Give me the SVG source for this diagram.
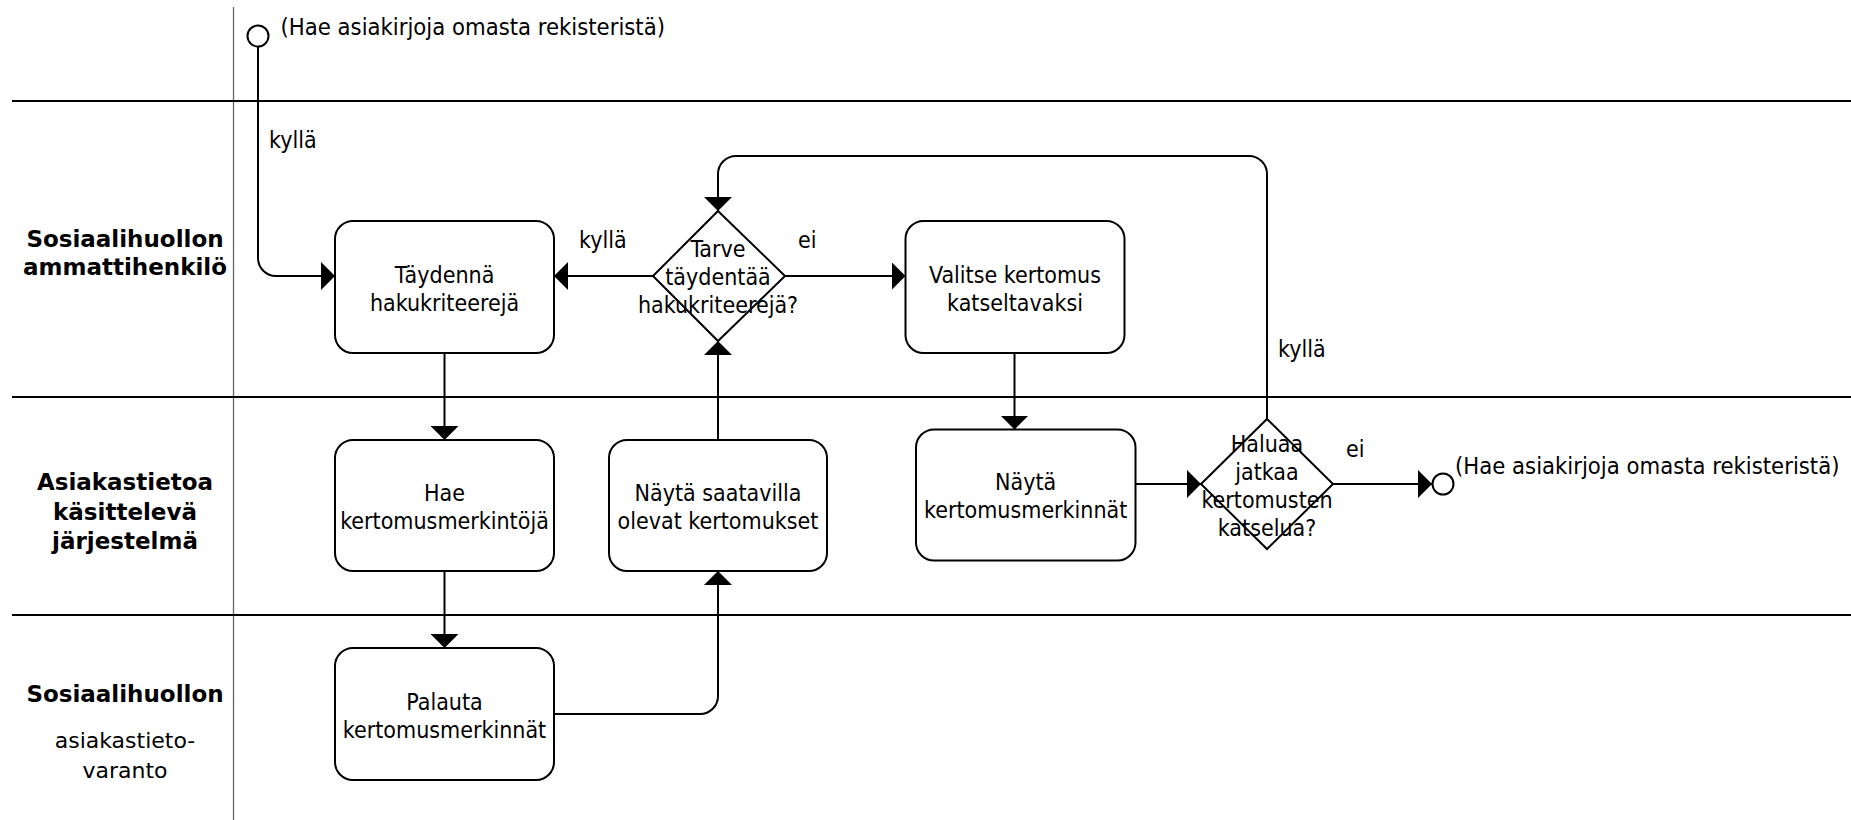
<svg xmlns="http://www.w3.org/2000/svg" width="1851" height="820" viewBox="0 0 1851 820">
  <style>
    text { font-family: "DejaVu Sans Condensed", "DejaVu Sans", sans-serif; font-stretch: condensed; fill: #000; }
    .t { font-size: 23px; text-anchor: middle; }
    .lbl { font-size: 23px; }
    .ev-lbl { font-size: 23.6px; }
    .lane { font-family: "DejaVu Sans", sans-serif; font-stretch: normal; font-size: 23px; font-weight: bold; text-anchor: middle; }
    .lane-sub { font-family: "DejaVu Sans", sans-serif; font-stretch: normal; font-size: 22px; text-anchor: middle; }
    .box { fill: #fff; stroke: #000; stroke-width: 2; }
    .gate { fill: none; stroke: #000; stroke-width: 2; }
    .sep { stroke: #000; stroke-width: 2; }
    .col { stroke: #666; stroke-width: 1.3; }
    .edge { fill: none; stroke: #000; stroke-width: 2; }
    .ev { fill: #fff; stroke: #000; stroke-width: 2; }
  </style>
  <defs>
    <marker id="arrow" viewBox="0 0 14 28" refX="14" refY="14" markerWidth="14" markerHeight="28" markerUnits="userSpaceOnUse" orient="auto">
      <path d="M0,0 L14,14 L0,28 Z" fill="#000"/>
    </marker>
  </defs>

  <rect width="1851" height="820" fill="#fff"/>

  <!-- swimlane grid -->
  <g id="lanes">
    <line class="col" x1="233.5" y1="7" x2="233.5" y2="820"/>
    <line class="sep" x1="12" y1="101" x2="1851" y2="101"/>
    <line class="sep" x1="12" y1="397" x2="1851" y2="397"/>
    <line class="sep" x1="12" y1="615" x2="1851" y2="615"/>
  </g>

  <!-- lane titles -->
  <g id="lane-ammattihenkilo">
    <text class="lane" x="125" y="247">Sosiaalihuollon</text>
    <text class="lane" x="125" y="274.5">ammattihenkilö</text>
  </g>
  <g id="lane-jarjestelma">
    <text class="lane" x="125" y="490">Asiakastietoa</text>
    <text class="lane" x="125" y="519.5">käsittelevä</text>
    <text class="lane" x="125" y="549">järjestelmä</text>
  </g>
  <g id="lane-varanto">
    <text class="lane" x="125" y="702">Sosiaalihuollon</text>
    <text class="lane-sub" x="125" y="748">asiakastieto-</text>
    <text class="lane-sub" x="125" y="778">varanto</text>
  </g>

  <!-- connectors -->
  <g id="connectors">
    <path class="edge" d="M258,46.5 V258 A18,18 0 0 0 276,276 H335" marker-end="url(#arrow)"/>
    <path class="edge" d="M653,276 H554" marker-end="url(#arrow)"/>
    <path class="edge" d="M785,276 H905.5" marker-end="url(#arrow)"/>
    <path class="edge" d="M444.5,353 V440" marker-end="url(#arrow)"/>
    <path class="edge" d="M444.5,571 V648" marker-end="url(#arrow)"/>
    <path class="edge" d="M554,714 H700 A18,18 0 0 0 718,696 V571" marker-end="url(#arrow)"/>
    <path class="edge" d="M718,440 V341" marker-end="url(#arrow)"/>
    <path class="edge" d="M1014.5,353 V429.5" marker-end="url(#arrow)"/>
    <path class="edge" d="M1135.5,484 H1201" marker-end="url(#arrow)"/>
    <path class="edge" d="M1267,419 V174 A18,18 0 0 0 1249,156 H736 A18,18 0 0 0 718,174 V211" marker-end="url(#arrow)"/>
    <path class="edge" d="M1333,484 H1432" marker-end="url(#arrow)"/>
    <text class="lbl" x="269" y="148">kyllä</text>
    <text class="lbl" x="579" y="248">kyllä</text>
    <text class="lbl" x="798" y="248">ei</text>
    <text class="lbl" x="1278" y="357">kyllä</text>
    <text class="lbl" x="1346" y="457">ei</text>
  </g>

  <!-- start event -->
  <g id="start">
    <circle class="ev" cx="258" cy="36" r="10.5"/>
    <text class="ev-lbl" x="280.5" y="35">(Hae asiakirjoja omasta rekisteristä)</text>
  </g>

  <g id="taydenna">
    <rect class="box" x="335" y="221" width="219" height="132" rx="18"/>
    <text class="t" x="444.5" y="283">Täydennä</text>
    <text class="t" x="444.5" y="311">hakukriteerejä</text>
  </g>

  <g id="tarve">
    <polygon class="gate" points="718,211 785,276 718,341 653,276"/>
    <text class="t" x="718" y="257">Tarve</text>
    <text class="t" x="718" y="285">täydentää</text>
    <text class="t" x="718" y="313">hakukriteerejä?</text>
  </g>

  <g id="valitse">
    <rect class="box" x="905.5" y="221" width="219" height="132" rx="18"/>
    <text class="t" x="1015" y="282.5">Valitse kertomus</text>
    <text class="t" x="1015" y="310.5">katseltavaksi</text>
  </g>

  <g id="hae">
    <rect class="box" x="335" y="440" width="219" height="131" rx="18"/>
    <text class="t" x="444.5" y="500.5">Hae</text>
    <text class="t" x="444.5" y="528.5">kertomusmerkintöjä</text>
  </g>

  <g id="nayta-saatavilla">
    <rect class="box" x="609" y="440" width="218" height="131" rx="18"/>
    <text class="t" x="718" y="500.5">Näytä saatavilla</text>
    <text class="t" x="718" y="528.5">olevat kertomukset</text>
  </g>

  <g id="nayta-merkinnat">
    <rect class="box" x="916" y="429.5" width="219.5" height="131" rx="18"/>
    <text class="t" x="1025.7" y="490">Näytä</text>
    <text class="t" x="1025.7" y="518">kertomusmerkinnät</text>
  </g>

  <g id="haluaa">
    <polygon class="gate" points="1267,419 1333,484 1267,549 1201,484"/>
    <text class="t" x="1267" y="451.5">Haluaa</text>
    <text class="t" x="1267" y="479.5">jatkaa</text>
    <text class="t" x="1267" y="507.5">kertomusten</text>
    <text class="t" x="1267" y="535.5">katselua?</text>
  </g>

  <g id="palauta">
    <rect class="box" x="335" y="648" width="219" height="132" rx="18"/>
    <text class="t" x="444.5" y="709.5">Palauta</text>
    <text class="t" x="444.5" y="737.5">kertomusmerkinnät</text>
  </g>

  <!-- end event -->
  <g id="end">
    <circle class="ev" cx="1443" cy="484" r="10.5"/>
    <text class="ev-lbl" x="1455" y="474">(Hae asiakirjoja omasta rekisteristä)</text>
  </g>
</svg>
